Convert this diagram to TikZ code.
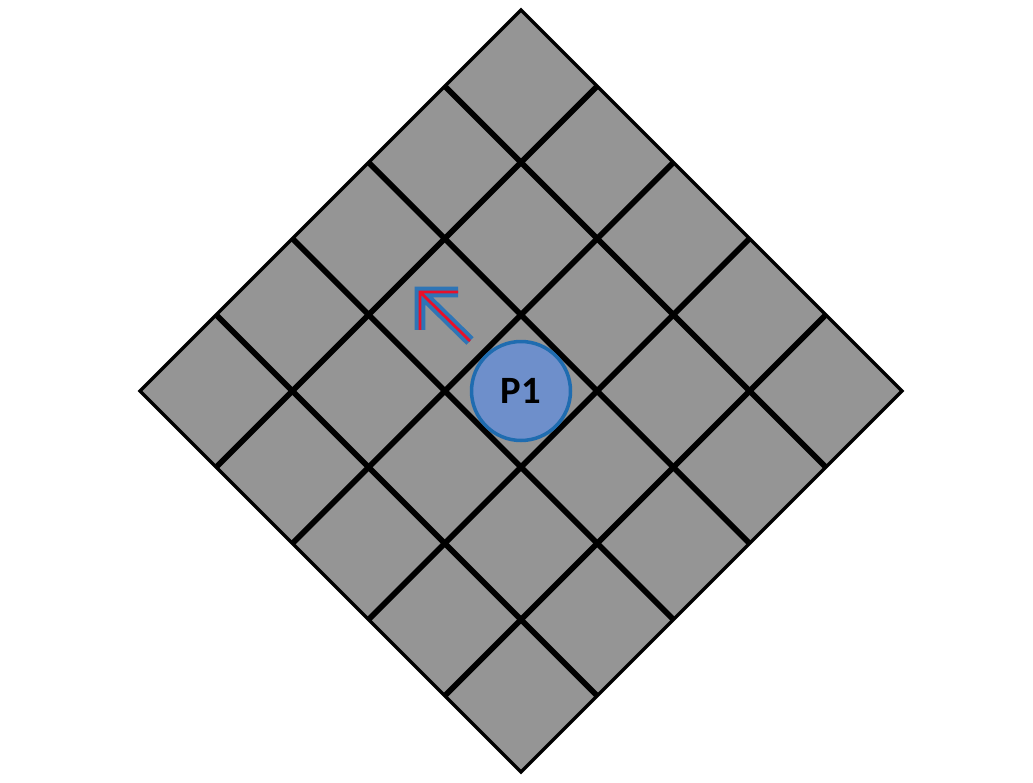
\documentclass[tikz,border=0pt]{standalone}
\usepackage{fontspec}
\setsansfont{Carlito}
\usepackage{tikz}
\usetikzlibrary{positioning}
\definecolor{cellgray}{HTML}{959595}
\definecolor{pfill}{HTML}{6E8FCB}
\definecolor{pline}{HTML}{1F6CB0}
\definecolor{arrowblue}{HTML}{2E75B6}
\definecolor{arrowred}{HTML}{E8102A}

\begin{document}
\begin{tikzpicture}[
    x=0.02cm, y=-0.02cm,
    board/.style={draw=black,line width=2pt,line join=miter},
    gridline/.style={black,line width=3.2pt},
    pnode/.style={circle,draw=pline,fill=pfill,line width=2pt,minimum size=1.98cm,inner sep=0pt,font=\sffamily\bfseries\fontsize{22}{26}\selectfont}
]
\useasboundingbox (0,0) rectangle (1033,783);

% rotated 5x5 board
\begin{scope}[shift={(521,391)},rotate=45]
\fill[cellgray] (-269.4,-269.4) rectangle (269.4,269.4);
\foreach \i in {-1.5,-0.5,0.5,1.5} {
  \draw[gridline] (\i*107.76,-269.4) -- (\i*107.76,269.4);
  \draw[gridline] (-269.4,\i*107.76) -- (269.4,\i*107.76);
}
\draw[board] (-269.4,-269.4) rectangle (269.4,269.4);
\end{scope}

\node[pnode] (p1) at (521,391) {P1};

% move arrow
\coordinate (tip) at (420,292);
\coordinate (tail) at (470,341);
\coordinate (armh) at (458,292);
\coordinate (armv) at (420,330);
\foreach \c/\w in {arrowblue/6pt,arrowred/1.6pt}
  \draw[draw=\c,line width=\w,line join=miter] (armh) -- (tip) -- (armv) (tip) -- (tail);
\end{tikzpicture}
\end{document}
